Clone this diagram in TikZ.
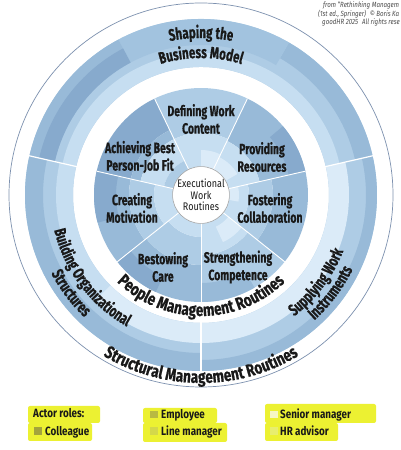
\documentclass[tikz,border=0pt]{standalone}
\usepackage{fontspec}
\setmainfont{Fira Sans}
\newfontfamily\lbl{Fira Sans}[FakeStretch=0.7, BoldFeatures={FakeBold=0.6}]
\newfontfamily\lbla{Fira Sans}[FakeStretch=0.78, BoldFeatures={FakeBold=0.6}]
\newfontfamily\lblc{Fira Sans}[FakeStretch=0.82]
\usetikzlibrary{decorations.text}
\definecolor{cA}{RGB}{135,170,205}
\definecolor{cB}{RGB}{152,186,216}
\definecolor{cBC}{RGB}{162,195,223}
\definecolor{cC}{RGB}{174,204,229}
\definecolor{cD}{RGB}{198,222,241}
\definecolor{cE}{RGB}{219,235,248}
\definecolor{hl}{RGB}{236,241,50}
\definecolor{txt}{RGB}{25,25,25}
\definecolor{rim}{RGB}{125,145,175}
\definecolor{sqA}{RGB}{163,163,60}
\definecolor{sqB}{RGB}{184,186,66}
\definecolor{sqC}{RGB}{212,216,74}
\definecolor{sqD}{RGB}{232,238,110}
\definecolor{sqE}{RGB}{246,247,196}
\newcommand{\annsec}[5]{\fill[#1] (#2:#4) arc[start angle=#2, end angle=#3, radius=#4] -- (#3:#5) arc[start angle=#3, end angle=#2, radius=#5] -- cycle;}
\newcommand{\arcfnt}{\lbl\bfseries\fontsize{16.5}{16.5}\selectfont}
\newcommand{\arcfntb}{\lbla\bfseries\fontsize{17.5}{17.5}\selectfont}
\tikzset{
  inlbl/.style={font=\lbl\bfseries\fontsize{15}{17.5}\selectfont, align=center, text=txt, inner sep=0pt},
  ctrlbl/.style={circle, draw=gray!70, line width=0.6pt, fill=white, minimum size=54pt, inner sep=0pt,
    font=\lblc\fontsize{11}{11.5}\selectfont, align=center, text=txt},
  arctext/.style={decorate, decoration={text along path, text align=center, text color=txt, text={|\arcfnt|#1}}},
  arctextb/.style={decorate, decoration={text along path, text align=center, text color=txt, text={|\arcfntb|#1}}},
  legtxt/.style={font=\lblc\bfseries\fontsize{12}{12}\selectfont, text=txt, anchor=base west, inner sep=0pt},
  cpy/.style={font=\lblc\itshape\fontsize{7.5}{7.5}\selectfont, text=black!70, anchor=base west, inner sep=0pt},
  hlbox/.style={fill=hl, rounded corners=2pt},
  divider/.style={white, line width=#1}
}
\begin{document}
\begin{tikzpicture}[x=1pt,y=1pt]
\useasboundingbox (0,0) rectangle (400,450);
\fill[white] (0,0) rectangle (400,450);
\begin{scope}[shift={(201,255)}]
  % outer thin circle
  \draw[rim, line width=0.7pt] (0,0) circle[radius=192];
  % ---- outer ring: top sector
  \annsec{cC}{12.86}{167.14}{128}{176}
  \annsec{cB}{12.86}{60}{158}{176}
  \annsec{cBC}{60}{118}{150}{176}
  \annsec{cB}{118}{167.14}{150}{176}
  \annsec{cA}{118}{167.14}{150}{166}
  \annsec{cD}{12.86}{167.14}{128}{142}
  % left sector
  \annsec{cC}{167.14}{270}{128}{176}
  \annsec{cB}{167.14}{270}{158}{176}
  \annsec{cD}{167.14}{270}{128}{145}
  \annsec{cE}{225}{270}{128}{148}
  % right sector
  \annsec{cC}{-90}{12.86}{128}{176}
  \annsec{cB}{-90}{12.86}{165}{176}
  \annsec{cE}{-90}{12.86}{128}{148}
  \foreach \a in {12.86,167.14,270} \draw[divider=1.2pt] (\a:127) -- (\a:177);
  % ---- inner disc
  % Defining
  \annsec{cC}{64.29}{115.71}{62}{107}
  \annsec{cD}{64.29}{115.71}{27}{62}
  \annsec{cE}{64.29}{90}{27}{45}
  % Providing
  \annsec{cB}{12.86}{64.29}{60}{107}
  \annsec{cA}{12.86}{40}{90}{107}
  \annsec{cD}{12.86}{64.29}{27}{60}
  \annsec{cE}{30}{64.29}{27}{42}
  % Fostering
  \annsec{cB}{-38.57}{12.86}{72}{107}
  \annsec{cC}{-38.57}{12.86}{48}{72}
  \annsec{cD}{-38.57}{12.86}{27}{48}
  \annsec{cE}{-10}{12.86}{27}{38}
  % Strengthening
  \annsec{cC}{-90}{-38.57}{60}{107}
  \annsec{cB}{-90}{-60}{88}{107}
  \annsec{cD}{-90}{-38.57}{27}{60}
  \annsec{cE}{-65}{-38.57}{35}{52}
  % Bestowing
  \annsec{cB}{218.57}{270}{70}{107}
  \annsec{cA}{218.57}{245}{90}{107}
  \annsec{cC}{218.57}{270}{42}{70}
  \annsec{cD}{218.57}{270}{27}{42}
  % Creating
  \annsec{cB}{167.14}{218.57}{72}{107}
  \annsec{cA}{167.14}{195}{85}{107}
  \annsec{cC}{167.14}{218.57}{47}{72}
  \annsec{cD}{167.14}{218.57}{27}{47}
  % Achieving
  \annsec{cA}{115.71}{167.14}{72}{107}
  \annsec{cB}{115.71}{167.14}{62}{72}
  \annsec{cD}{115.71}{167.14}{38}{62}
  \annsec{cC}{115.71}{167.14}{27}{38}
  \foreach \a in {12.86,64.29,115.71,167.14,218.57,270,321.43} \draw[divider=0.9pt] (\a:27) -- (\a:107);
  % centre
  \node[ctrlbl] (ctr) at (0,0) {Executional\\Work\\Routines};
  % inner labels
  \node[inlbl] (def) at (0,76) {Defining Work\\Content};
  \node[inlbl] (pro) at (61,38) {Providing\\Resources};
  \node[inlbl] (fos) at (69,-13) {Fostering\\Collaboration};
  \node[inlbl] (str) at (37,-72) {Strengthening\\Competence};
  \node[inlbl] (bes) at (-38,-72) {Bestowing\\Care};
  \node[inlbl] (cre) at (-69,-13) {Creating\\Motivation};
  \node[inlbl] (ach) at (-61,38) {Achieving Best\\Person-Job Fit};
  % arc texts
  \path[arctext={Shaping the}] (125:157) arc[start angle=125, end angle=55, radius=157];
  \path[arctext={Business Model}] (130:137) arc[start angle=130, end angle=50, radius=137];
  \path[arctextb={People Management Routines}] (210:121) arc[start angle=210, end angle=330, radius=121];
  \path[arctextb={Structural Management Routines}] (215:188) arc[start angle=215, end angle=325, radius=188];
  \path[arctext={Building Organizational}] (185:151) arc[start angle=185, end angle=249, radius=151];
  \path[arctext={Structures}] (195:169) arc[start angle=195, end angle=239, radius=169];
  \path[arctext={Supplying Work}] (295:153) arc[start angle=295, end angle=351, radius=153];
  \path[arctext={Instruments}] (300:169) arc[start angle=300, end angle=346, radius=169];
\end{scope}
% legend
\fill[hlbox] (28,27) rectangle (100,44);
\fill[hlbox] (28,9) rectangle (92,27);
\fill[hlbox] (143,27) rectangle (217,42);
\fill[hlbox] (143,8) rectangle (227,27);
\fill[hlbox] (265,27) rectangle (376,46);
\fill[hlbox] (265,9) rectangle (338,27);
\fill[sqA] (34,15) rectangle (42,23);
\fill[sqB] (150,32) rectangle (158,39);
\fill[sqC] (150,15) rectangle (158,23);
\fill[sqE] (270,32) rectangle (278,39);
\fill[sqD] (270,15) rectangle (278,23);
\node[legtxt] (roles) at (33,32) {Actor roles:};
\node[legtxt] (col) at (45,14) {Colleague};
\node[legtxt] (emp) at (161,31) {Employee};
\node[legtxt] (lin) at (161,14) {Line manager};
\node[legtxt] (sen) at (280,31) {Senior manager};
\node[legtxt] (hra) at (280,14) {HR advisor};
% copyright
\node[cpy] (cp1) at (323,442) {from “Rethinking Managem};
\node[cpy] (cp2) at (318,433.5) {(1st ed., Springer)\enspace © Boris Ka};
\node[cpy] (cp3) at (322,425) {goodHR 2025\enspace All rights rese};
\end{tikzpicture}
\end{document}
